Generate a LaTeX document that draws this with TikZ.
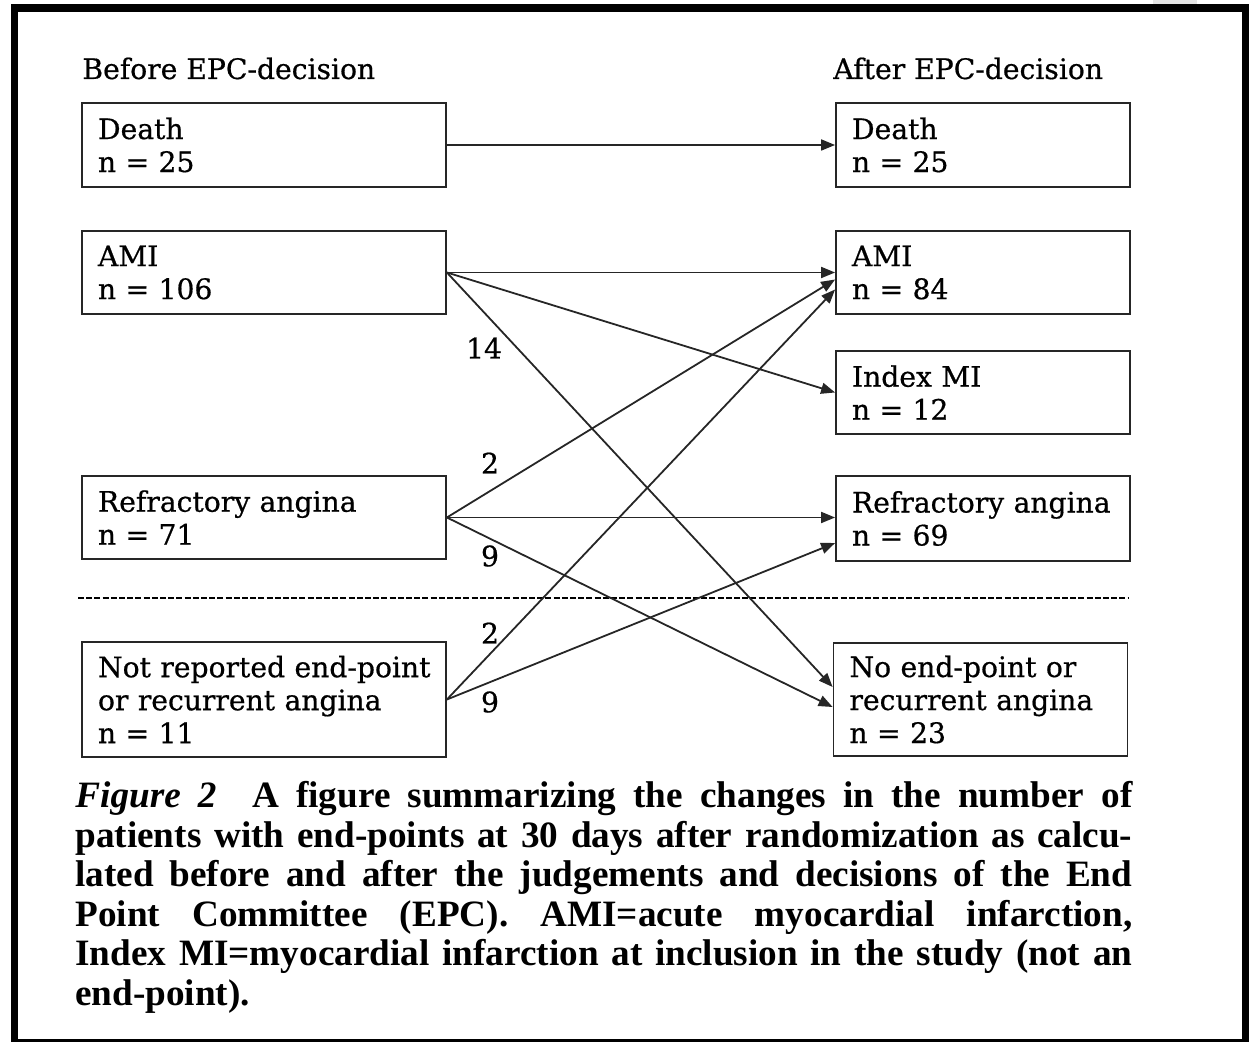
\documentclass[tikz,border=0pt]{standalone}
\usepackage{fontspec}
\setmainfont[FakeBold=0.6]{DejaVu Serif}
\newfontfamily\capfont{Liberation Serif}
\usetikzlibrary{arrows.meta}
\begin{document}
\begin{tikzpicture}[x=0.5pt,y=-0.5pt,
  txt/.style={font=\fontsize{14.1}{16.5}\selectfont},
  box/.style={txt, draw=black!85, line width=0.9pt, inner xsep=8pt, inner ysep=0pt, align=left, anchor=center},
  lbox/.style={box, text width=166pt, minimum width=182pt},
  rbox/.style={box, text width=131pt, minimum width=147pt},
  conn/.style={-{Triangle[length=7pt,width=5.5pt]}, line width=0.9pt, draw=black!85},
  lbl/.style={txt, inner sep=0pt},
  head/.style={txt, inner sep=0pt, anchor=base west},
]
\useasboundingbox (0,0) rectangle (1249,1042);
% frame
\fill[black!10] (1153,0) rectangle (1197,4);
\draw[line width=3.8pt] (14.5,8) rectangle (1245.5,1042.5);

% headers
\node[head] (hbefore) at (82,79) {Before EPC-decision};
\node[head] (hafter) at (833,79) {After EPC-decision};

% left boxes
\node[lbox, minimum height=42pt] (deathL) at (264,145) {Death\\n = 25};
\node[lbox, minimum height=41.5pt] (amiL) at (264,272.5) {AMI\\n = 106};
\node[lbox, minimum height=41.5pt] (refL) at (264,517.5) {Refractory angina\\n = 71};
\node[lbox, minimum height=57.5pt] (notL) at (264,699.5) {\mbox{Not reported end-point}\\or recurrent angina\\n = 11};

% right boxes
\node[rbox, minimum height=42pt] (deathR) at (983,145) {Death\\n = 25};
\node[rbox, minimum height=41.5pt] (amiR) at (983,272.5) {AMI\\n = 84};
\node[rbox, minimum height=41.5pt] (idxR) at (983,392.5) {Index MI\\n = 12};
\node[rbox, minimum height=42.5pt] (refR) at (983,518.5) {\mbox{Refractory angina}\\n = 69};
\node[rbox, minimum height=56.5pt] (noR) at (980.5,699.5) {No end-point or\\recurrent angina\\n = 23};

% dashed separator
\coordinate (dl) at (78,598);
\coordinate (dr) at (1128,598);
\draw[line width=0.6pt, dash pattern=on 3pt off 1.1pt] (dl) -- (dr);

% connectors
\draw[conn] (deathL.east) -- (deathL.east -| deathR.west);
\draw[conn] (amiL.east) -- (amiL.east -| amiR.west);
\draw[conn] (amiL.east) -- (idxR.west);
\draw[conn] (amiL.east) -- ([yshift=6.25pt]noR.west);
\draw[conn] (refL.east) -- ([yshift=-3.5pt]amiR.west);
\draw[conn] (refL.east) -- (refL.east -| refR.west);
\draw[conn] (refL.east) -- ([yshift=-3.75pt]noR.west);
\draw[conn] (notL.east) -- ([yshift=-8.5pt]amiR.west);
\draw[conn] (notL.east) -- ([yshift=-12.25pt]refR.west);

% labels
\node[lbl] (l14) at (484,348) {14};
\node[lbl] (l2a) at (490,463) {2};
\node[lbl] (l9a) at (490,556) {9};
\node[lbl] (l2b) at (490,633) {2};
\node[lbl] (l9b) at (490,702) {9};

% caption
\node[anchor=north west, inner sep=0pt, text width=528.5pt, align=justify,
      font=\capfont\bfseries\fontsize{18.6}{19.75}\selectfont] (cap) at (75,781)
{\hyphenpenalty=10000\tolerance=10000\emergencystretch=20pt
\textit{Figure 2}\hspace{0.5em} A figure summarizing the changes in the number of\linebreak
patients with end-points at 30 days after randomization as calcu-\linebreak
lated before and after the judgements and decisions of the End\linebreak
Point Committee (EPC). AMI=acute myocardial infarction,\linebreak
Index MI=myocardial infarction at inclusion in the study (not an\linebreak
end-point).};
\end{tikzpicture}
\end{document}
